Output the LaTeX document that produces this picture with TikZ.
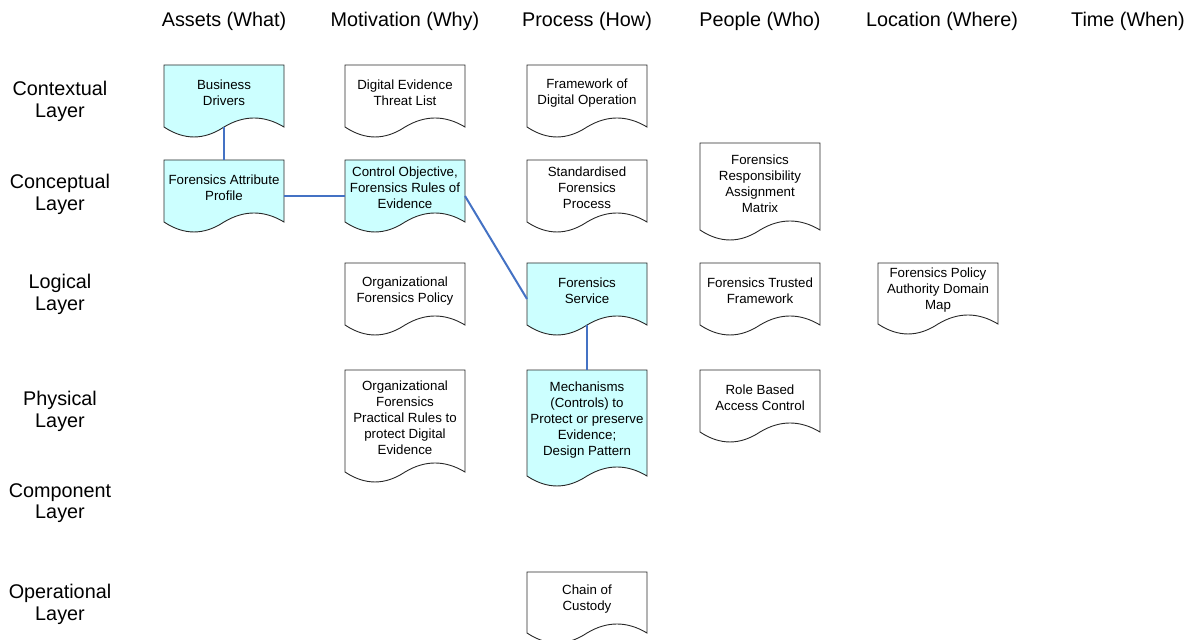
\documentclass[tikz,border=0pt]{standalone}
\usepackage{fontspec}
\setmainfont{Liberation Sans}
\usetikzlibrary{calc}

\definecolor{docfill}{RGB}{204,255,255}
\definecolor{linkblue}{RGB}{68,114,196}
\definecolor{docedge}{RGB}{40,40,40}

\tikzset{
  docarea/.style={rectangle, inner sep=0pt, minimum width=120bp},
  docline/.style={draw=docedge, line width=0.9bp, line join=miter},
  hilite/.style={fill=docfill},
  docplain/.style={fill=white},
  doctext/.style={align=center, inner sep=0pt, font=\fontsize{13.3bp}{16bp}\selectfont},
  colhead/.style={anchor=base, inner sep=0pt, font=\fontsize{19.8bp}{22bp}\selectfont},
  rowhead/.style={anchor=north, align=center, inner sep=0pt, font=\fontsize{19.8bp}{21.5bp}\selectfont},
  link/.style={draw=linkblue, line width=2bp},
}

% Document shape: straight top and sides, wavy bottom edge.
% #1 name, #2 left x, #3 top y, #4 side height, #5 fill style, #6 text
\newcommand\docbox[6]{%
  \pgfmathsetmacro\dxl{#2}%
  \pgfmathsetmacro\dxr{#2+120}%
  \pgfmathsetmacro\dxm{#2+60}%
  \pgfmathsetmacro\dyt{#3}%
  \pgfmathsetmacro\dyb{#3+#4}%
  \pgfmathsetmacro\dyu{#3+#4-12}%
  \pgfmathsetmacro\dyd{#3+#4+13.3}%
  \pgfmathsetmacro\dyc{#3+(#4+10)/2}%
  \pgfmathsetmacro\dyr{#3+#4/2}%
  \pgfmathsetmacro\dyx{#3+#4/2-3}%
  \draw[docline,#5] (\dxl,\dyt) -- (\dxr,\dyt) -- (\dxr,\dyb)
    .. controls (\dxr-20,\dyu) and (\dxr-40,\dyu) .. (\dxm,\dyb)
    .. controls (\dxm-20,\dyd) and (\dxl+20,\dyd) .. (\dxl,\dyb) -- cycle;
  \node[docarea, minimum height=#4bp] (#1) at (\dxm,\dyr) {};
  \coordinate (#1-E) at (\dxr,\dyc);
  \coordinate (#1-W) at (\dxl,\dyc);
  \node[doctext] (#1-t) at (\dxm,\dyx) {#6};
}

\begin{document}
\begin{tikzpicture}[x=1bp,y=-1bp]
  \useasboundingbox (0,0) rectangle (1191,640);
  \fill[white] (0,0) rectangle (1191,640);

  % column headings
  \node[colhead] (hWhat)  at (224,27)  {Assets (What)};
  \node[colhead] (hWhy)   at (405,27)  {Motivation (Why)};
  \node[colhead] (hHow)   at (587,27)  {Process (How)};
  \node[colhead] (hWho)   at (760,27)  {People (Who)};
  \node[colhead] (hWhere) at (942,27)  {Location (Where)};
  \node[colhead] (hWhen)  at (1128,27) {Time (When)};

  % row headings
  \node[rowhead] (rCtx)  at (60,81)  {Contextual\\Layer};
  \node[rowhead] (rCon)  at (60,174) {Conceptual\\Layer};
  \node[rowhead] (rLog)  at (60,274) {Logical\\Layer};
  \node[rowhead] (rPhy)  at (60,391) {Physical\\Layer};
  \node[rowhead] (rCmp)  at (60,483) {Component\\Layer};
  \node[rowhead] (rOps)  at (60,584) {Operational\\Layer};

  % contextual layer
  \docbox{bd}{164}{65}{62}{hilite}{Business\\Drivers}
  \docbox{tl}{345}{65}{62}{docplain}{Digital Evidence\\Threat List}
  \docbox{fdo}{527}{65}{62}{docplain}{Framework of\\Digital Operation}

  % conceptual layer
  \docbox{fap}{164}{160}{62}{hilite}{Forensics Attribute\\Profile}
  \docbox{co}{345}{160}{62}{hilite}{Control Objective,\\Forensics Rules of\\Evidence}
  \docbox{sfp}{527}{160}{62}{docplain}{Standardised\\Forensics\\Process}
  \docbox{ram}{700}{143}{87}{docplain}{Forensics\\Responsibility\\Assignment\\Matrix}

  % logical layer
  \docbox{ofp}{345}{263}{62}{docplain}{Organizational\\Forensics Policy}
  \docbox{fs}{527}{263}{62}{hilite}{Forensics\\Service}
  \docbox{ftf}{700}{263}{62}{docplain}{Forensics Trusted\\Framework}
  \docbox{pad}{878}{263}{61}{docplain}{Forensics Policy\\Authority Domain\\Map}

  % physical layer
  \docbox{pr}{345}{370}{102}{docplain}{Organizational\\Forensics\\Practical Rules to\\protect Digital\\Evidence}
  \docbox{mech}{527}{370}{106}{hilite}{Mechanisms\\(Controls) to\\Protect or preserve\\Evidence;\\Design Pattern}
  \docbox{rbac}{700}{370}{62}{docplain}{Role Based\\Access Control}

  % operational layer
  \docbox{coc}{527}{572}{61}{docplain}{Chain of\\Custody}

  % links
  \draw[link] (bd.south) -- (fap.north);
  \draw[link] (fap-E) -- (co-W);
  \draw[link] (co-E) -- (fs-W);
  \draw[link] (fs.south) -- (mech.north);
\end{tikzpicture}
\end{document}
